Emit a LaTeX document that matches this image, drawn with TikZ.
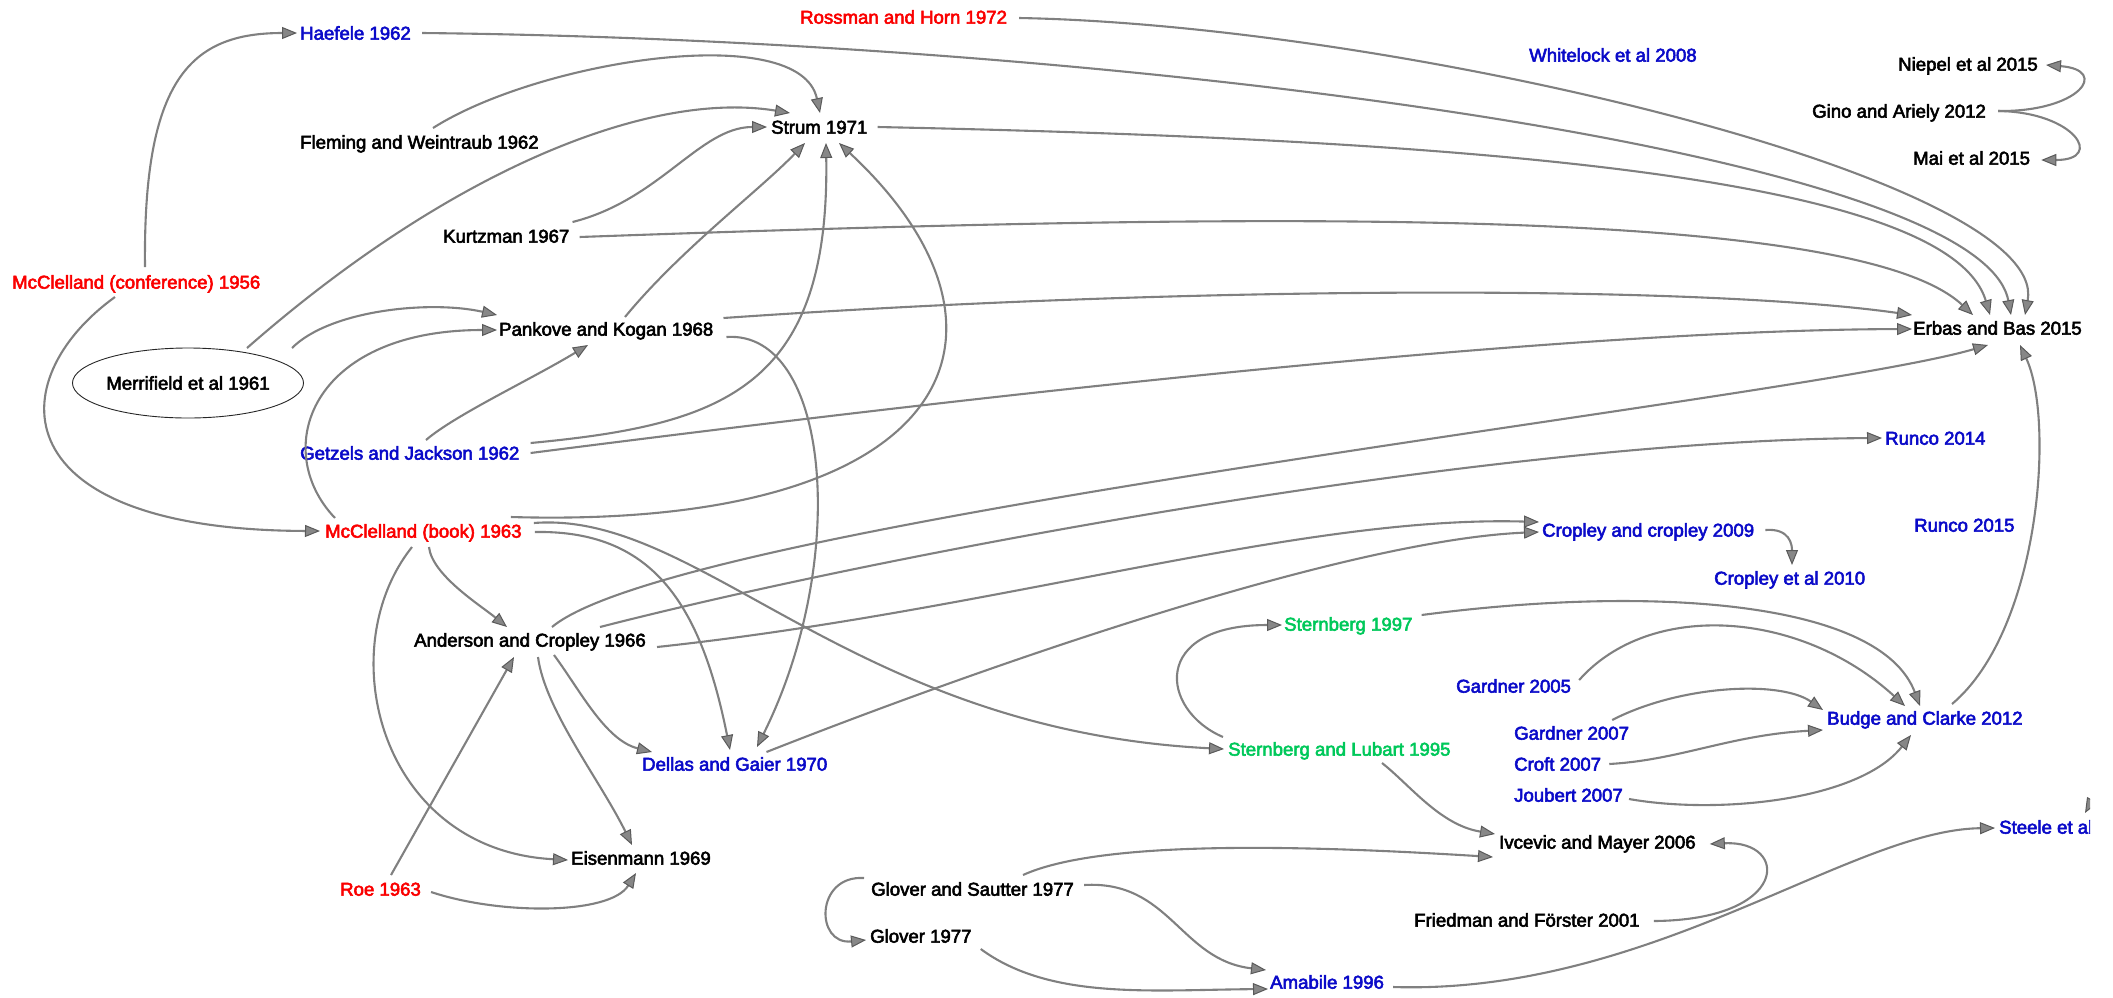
\documentclass[tikz,border=0pt]{standalone}
\usepackage{fontspec}
\setmainfont{Liberation Sans}
\newfontfamily\lblfont[FakeBold=3]{Liberation Sans}
\usetikzlibrary{arrows.meta,shapes.geometric}
\definecolor{nred}{RGB}{250,0,0}
\definecolor{nblue}{RGB}{10,10,200}
\definecolor{ngreen}{RGB}{0,200,90}
\definecolor{egray}{RGB}{128,128,128}
\definecolor{afill}{RGB}{135,135,135}
\definecolor{adraw}{RGB}{90,90,90}
\tikzset{
  lbl/.style={anchor=west, inner sep=0pt, text height=13.3pt, text depth=0pt,
    font=\lblfont\fontsize{18.6}{20}\selectfont},
  edge/.style={draw=egray, line width=2.1pt,
    -{Triangle[length=15pt,width=12pt,fill=afill,color=adraw,line width=1pt]}},
}
\begin{document}
\begin{tikzpicture}[x=1pt,y=-1pt]
\useasboundingbox (0,0) rectangle (2113,997);
\clip (0,0) rectangle (2090,997);

% nodes
\node[lbl,text=nblue] (haefele) at (300,33) {Haefele 1962};
\node[lbl,text=nred] (rossman) at (800,17) {Rossman and Horn 1972};
\node[lbl,text=nblue] (whitelock) at (1529,55) {Whitelock et al 2008};
\node[lbl] (niepel) at (1898,64) {Niepel et al 2015};
\node[lbl] (gino) at (1812,111) {Gino and Ariely 2012};
\node[lbl] (mai) at (1913,158) {Mai et al 2015};
\node[lbl] (strum) at (771,127) {Strum 1971};
\node[lbl] (fleming) at (300,142) {Fleming and Weintraub 1962};
\node[lbl] (kurtzman) at (443,236) {Kurtzman 1967};
\node[lbl,text=nred] (mccconf) at (12,282) {McClelland (conference) 1956};
\node[lbl] (pankove) at (499,329) {Pankove and Kogan 1968};
\node[lbl] (erbas) at (1913,328) {Erbas and Bas 2015};
\node[draw=black!85,ellipse,line width=0.9pt,inner sep=0pt,minimum width=208pt,minimum height=70pt,
  text height=13.3pt,text depth=0pt,font=\lblfont\fontsize{18.6}{20}\selectfont] (merrifield) at (188,383) {Merrifield et al 1961};
\node[lbl,text=nblue] (getzels) at (300,453) {Getzels and Jackson 1962};
\node[lbl,text=nblue] (runco14) at (1885,438) {Runco 2014};
\node[lbl,text=nred] (mcbook) at (325,531) {McClelland (book) 1963};
\node[lbl,text=nblue] (cropley09) at (1542,530) {Cropley and cropley 2009};
\node[lbl,text=nblue] (runco15) at (1914,525) {Runco 2015};
\node[lbl,text=nblue] (cropley10) at (1714,578) {Cropley et al 2010};
\node[lbl,text=ngreen] (sternberg97) at (1284,624) {Sternberg 1997};
\node[lbl] (anderson) at (414,640) {Anderson and Cropley 1966};
\node[lbl,text=nblue] (gardner05) at (1456,686) {Gardner 2005};
\node[lbl,text=nblue] (budge) at (1827,718) {Budge and Clarke 2012};
\node[lbl,text=nblue] (gardner07) at (1514,733) {Gardner 2007};
\node[lbl,text=ngreen] (sternlub) at (1228,749) {Sternberg and Lubart 1995};
\node[lbl,text=nblue] (croft) at (1514,764) {Croft 2007};
\node[lbl,text=nblue] (dellas) at (642,764) {Dellas and Gaier 1970};
\node[lbl,text=nblue] (joubert) at (1514,795) {Joubert 2007};
\node[lbl,text=nblue] (steele) at (1999,827) {Steele et al};
\node[lbl] (ivcevic) at (1499,842) {Ivcevic and Mayer 2006};
\node[lbl] (eisenmann) at (571,858) {Eisenmann 1969};
\node[lbl,text=nred] (roe) at (340,889) {Roe 1963};
\node[lbl] (glsautter) at (871,889) {Glover and Sautter 1977};
\node[lbl] (friedman) at (1414,920) {Friedman and Förster 2001};
\node[lbl] (glover) at (870,936) {Glover 1977};
\node[lbl,text=nblue] (amabile) at (1270,982) {Amabile 1996};
\coordinate (offsteele) at (2115,760);

% edges
\draw[edge] ([shift={(133,-15)}]mccconf.west) .. controls (143,80) and (190,33) .. ([shift={(-3,0)}]haefele.west);
\draw[edge] ([shift={(103,15)}]mccconf.west) .. controls (0,380) and (0,530) .. ([shift={(-5,0)}]mcbook.west);
\draw[edge] ([shift={(59,-35)}]merrifield.center) .. controls (450,170) and (650,90) .. ([shift={(19,-14)}]strum.west);
\draw[edge] ([shift={(133,-14)}]fleming.west) .. controls (540,60) and (800,20) .. ([shift={(49,-14)}]strum.west);
\draw[edge] ([shift={(3,-14)}]kurtzman.east) .. controls (660,200) and (700,127) .. ([shift={(-4,0)}]strum.west);
\draw[edge] ([shift={(126,-12)}]pankove.west) .. controls (680,250) and (760,190) .. ([shift={(34,16)}]strum.west);
\draw[edge] ([shift={(11,-10)}]getzels.east) .. controls (720,425) and (830,390) .. ([shift={(55,16)}]strum.west);
\draw[edge] ([shift={(-11,-14)}]mcbook.east) .. controls (960,530) and (1040,330) .. ([shift={(68,16)}]strum.west);
\draw[edge] ([shift={(126,-13)}]getzels.west) .. controls (455,415) and (530,380) .. ([shift={(89,16)}]pankove.west);
\draw[edge] ([shift={(104,-35)}]merrifield.center) .. controls (330,310) and (430,300) .. ([shift={(-2,-14)}]pankove.west);
\draw[edge] ([shift={(10,-13)}]mcbook.west) .. controls (270,450) and (310,330) .. ([shift={(-2,1)}]pankove.west);
\draw[edge] ([shift={(11,0)}]haefele.east) .. controls (1100,40) and (1980,150) .. ([shift={(98,-13)}]erbas.west);
\draw[edge] ([shift={(12,1)}]rossman.east) .. controls (1400,25) and (2050,180) .. ([shift={(112,-13)}]erbas.west);
\draw[edge] ([shift={(10,0)}]strum.east) .. controls (1500,140) and (1950,180) .. ([shift={(77,-13)}]erbas.west);
\draw[edge] ([shift={(10,1)}]kurtzman.east) .. controls (1200,215) and (1850,200) .. ([shift={(60,-13)}]erbas.west);
\draw[edge] ([shift={(10,-11)}]pankove.east) .. controls (1200,285) and (1700,285) .. ([shift={(-1,-13)}]erbas.west);
\draw[edge] ([shift={(11,0)}]getzels.east) .. controls (1100,380) and (1600,330) .. ([shift={(-1,1)}]erbas.west);
\draw[edge] ([shift={(138,-13)}]anderson.west) .. controls (680,520) and (1800,400) .. ([shift={(75,17)}]erbas.west);
\draw[edge] ([shift={(125,-14)}]budge.west) .. controls (2040,630) and (2055,420) .. ([shift={(107,17)}]erbas.west);
\draw[edge] ([shift={(186,-13)}]anderson.west) .. controls (900,550) and (1500,440) .. ([shift={(-3,0)}]runco14.west);
\draw[edge] ([shift={(11,7)}]anderson.east) .. controls (1000,610) and (1300,515) .. ([shift={(-3,-8)}]cropley09.west);
\draw[edge] ([shift={(-61,-12)}]dellas.east) .. controls (1000,660) and (1350,540) .. ([shift={(-3,2)}]cropley09.west);
\draw[edge] ([shift={(11,0)}]cropley09.east) .. controls (1790,528) and (1792,545) .. ([shift={(78,-13)}]cropley10.west);
\draw[edge] ([shift={(104,16)}]mcbook.west) .. controls (432,575) and (480,605) .. ([shift={(93,-13)}]anderson.west);
\draw[edge] ([shift={(87,16)}]mcbook.west) .. controls (330,650) and (380,850) .. ([shift={(-3,2)}]eisenmann.west);
\draw[edge] ([shift={(13,1)}]mcbook.east) .. controls (650,530) and (700,600) .. ([shift={(88,-14)}]dellas.west);
\draw[edge] ([shift={(12,-8)}]mcbook.east) .. controls (700,510) and (850,730) .. ([shift={(-4,0)}]sternlub.west);
\draw[edge] ([shift={(-5,-12)}]sternlub.west) .. controls (1160,710) and (1150,625) .. ([shift={(-2,1)}]sternberg97.west);
\draw[edge] ([shift={(154,14)}]sternlub.west) .. controls (1410,785) and (1440,825) .. ([shift={(-4,-8)}]ivcevic.west);
\draw[edge] ([shift={(9,-9)}]sternberg97.east) .. controls (1650,585) and (1880,600) .. ([shift={(93,-12)}]budge.west);
\draw[edge] ([shift={(8,-6)}]gardner05.east) .. controls (1650,600) and (1800,610) .. ([shift={(78,-12)}]budge.west);
\draw[edge] ([shift={(-17,-13)}]gardner07.east) .. controls (1680,685) and (1780,680) .. ([shift={(-4,-8)}]budge.west);
\draw[edge] ([shift={(8,0)}]croft.east) .. controls (1680,760) and (1730,735) .. ([shift={(-4,12)}]budge.west);
\draw[edge] ([shift={(6,4)}]joubert.east) .. controls (1720,815) and (1860,800) .. ([shift={(84,17)}]budge.west);
\draw[edge] ([shift={(152,-14)}]glsautter.west) .. controls (1100,840) and (1300,845) .. ([shift={(-6,15)}]ivcevic.west);
\draw[edge] ([shift={(14,1)}]friedman.east) .. controls (1790,920) and (1790,840) .. ([shift={(14,2)}]ivcevic.east);
\draw[edge] ([shift={(9,5)}]amabile.east) .. controls (1650,995) and (1850,830) .. ([shift={(-4,1)}]steele.west);
\draw[edge] ([shift={(-7,-11)}]glsautter.west) .. controls (815,875) and (815,945) .. ([shift={(-4,4)}]glover.west);
\draw[edge] ([shift={(10,-4)}]glsautter.east) .. controls (1170,880) and (1180,960) .. ([shift={(-4,-12)}]amabile.west);
\draw[edge] ([shift={(9,13)}]glover.east) .. controls (1050,1000) and (1150,990) .. ([shift={(-2,7)}]amabile.west);
\draw[edge] ([shift={(51,-14)}]roe.west) -- ([shift={(100,17)}]anderson.west);
\draw[edge] ([shift={(10,3)}]roe.east) .. controls (500,915) and (610,915) .. ([shift={(65,15)}]eisenmann.west);
\draw[edge] ([shift={(124,17)}]anderson.west) .. controls (545,710) and (600,780) .. ([shift={(61,-13)}]eisenmann.west);
\draw[edge] ([shift={(140,15)}]anderson.west) .. controls (580,690) and (605,740) .. ([shift={(10,-12)}]dellas.west);
\draw[edge] ([shift={(13,8)}]pankove.east) .. controls (830,330) and (850,560) .. ([shift={(115,-17)}]dellas.west);
\draw[edge] ([shift={(12,0)}]gino.east) .. controls (2080,112) and (2110,70) .. ([shift={(8,1)}]niepel.east);
\draw[edge] ([shift={(12,0)}]gino.east) .. controls (2075,112) and (2105,160) .. ([shift={(11,2)}]mai.east);
\draw[edge] (offsteele) -- ([shift={(86,-14)}]steele.west);
\end{tikzpicture}
\end{document}
